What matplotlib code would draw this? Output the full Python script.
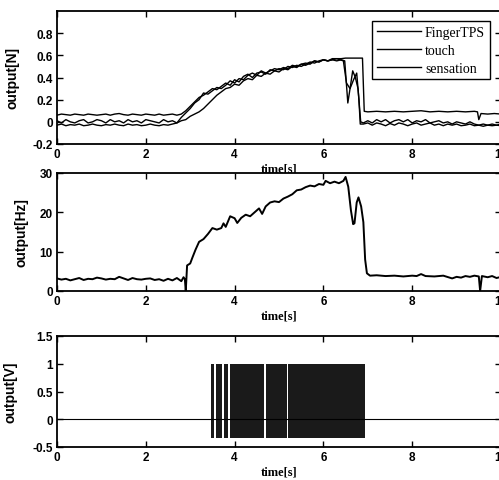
import matplotlib.pyplot as plt

plt.rcParams['font.family'] = 'Liberation Sans'
plt.rcParams['xtick.direction'] = 'in'
plt.rcParams['ytick.direction'] = 'in'

# --- panel 1: force output [N] ---
finger_t = [0.0, 0.1, 0.2, 0.3, 0.4, 0.5, 0.6, 0.7, 0.8, 0.9, 1.0, 1.1, 1.2, 1.3, 1.4,
            1.5, 1.6, 1.7, 1.8, 1.9, 2.0, 2.1, 2.2, 2.3, 2.4, 2.5, 2.6, 2.7, 2.8, 2.9,
            3.0, 3.1, 3.2, 3.3, 3.4, 3.5, 3.6, 3.7, 3.8, 3.9, 4.0, 4.1, 4.2, 4.3, 4.4,
            4.5, 4.6, 4.7, 4.8, 4.9, 5.0, 5.1, 5.2, 5.3, 5.4, 5.5, 5.6, 5.7, 5.8, 5.9,
            6.0, 6.1, 6.2, 6.3, 6.4, 6.5, 6.6, 6.7, 6.8, 6.88, 6.92, 7.0, 7.2, 7.4, 7.6,
            7.8, 8.0, 8.2, 8.4, 8.6, 8.8, 9.0, 9.2, 9.4, 9.47, 9.5, 9.55, 9.7, 9.85, 10.0]
finger_v = [0.06, 0.07, 0.065, 0.06, 0.07, 0.065, 0.06, 0.07, 0.065, 0.06, 0.065, 0.07, 0.06, 0.07, 0.075,
            0.065, 0.06, 0.07, 0.065, 0.06, 0.07, 0.065, 0.06, 0.07, 0.06, 0.065, 0.07, 0.06, 0.07, 0.1,
            0.14, 0.18, 0.22, 0.24, 0.27, 0.3, 0.29, 0.32, 0.35, 0.33, 0.38, 0.36, 0.41, 0.43, 0.4,
            0.44, 0.45, 0.43, 0.47, 0.46, 0.48, 0.47, 0.5, 0.49, 0.51, 0.5, 0.52, 0.54, 0.53, 0.55,
            0.56, 0.55, 0.57, 0.57, 0.57, 0.575, 0.575, 0.575, 0.575, 0.575, 0.095, 0.09, 0.095, 0.09, 0.095,
            0.09, 0.095, 0.1, 0.09, 0.095, 0.09, 0.095, 0.09, 0.095, 0.09, 0.02, 0.075, 0.07, 0.075, 0.07]

touch_t = [0.0, 0.1, 0.2, 0.3, 0.4, 0.5, 0.6, 0.7, 0.8, 0.9, 1.0, 1.1, 1.2, 1.3, 1.4,
           1.5, 1.6, 1.7, 1.8, 1.9, 2.0, 2.1, 2.2, 2.3, 2.4, 2.5, 2.6, 2.7, 2.8, 2.9,
           3.0, 3.1, 3.2, 3.3, 3.4, 3.5, 3.6, 3.7, 3.8, 3.9, 4.0, 4.1, 4.2, 4.3, 4.4,
           4.5, 4.6, 4.7, 4.8, 4.9, 5.0, 5.1, 5.2, 5.3, 5.4, 5.5, 5.6, 5.7, 5.8, 5.9,
           6.0, 6.1, 6.2, 6.3, 6.4, 6.48, 6.55, 6.6, 6.66, 6.72, 6.78, 6.84, 6.9, 7.0, 7.1,
           7.2, 7.3, 7.4, 7.5, 7.6, 7.7, 7.8, 7.9, 8.0, 8.1, 8.2, 8.3, 8.4, 8.5, 8.6,
           8.7, 8.8, 8.9, 9.0, 9.1, 9.2, 9.3, 9.4, 9.5, 9.6, 9.7, 9.8, 9.9, 10.0]
touch_v = [0.01, -0.01, 0.02, 0.0, -0.01, 0.01, 0.02, -0.01, 0.0, 0.02, 0.01, -0.01, 0.02, 0.0, 0.01,
           -0.01, 0.02, 0.0, 0.01, -0.01, 0.02, 0.01, 0.0, -0.01, 0.02, 0.0, 0.01, -0.01, 0.01, 0.02,
           0.05, 0.07, 0.09, 0.12, 0.16, 0.2, 0.24, 0.27, 0.3, 0.31, 0.34, 0.33, 0.37, 0.39, 0.38,
           0.42, 0.41, 0.44, 0.43, 0.46, 0.45, 0.48, 0.47, 0.5, 0.49, 0.52, 0.51, 0.53, 0.55, 0.54,
           0.56, 0.55, 0.56, 0.55, 0.56, 0.55, 0.17, 0.3, 0.46, 0.4, 0.3, 0.0, -0.01, 0.01, -0.01,
           0.02, 0.0, 0.02, -0.01, 0.01, 0.02, 0.0, 0.02, -0.01, 0.01, 0.0, 0.02, -0.01, 0.0, 0.01,
           -0.01, 0.0, -0.02, 0.0, -0.01, -0.02, 0.0, -0.02, -0.03, -0.02, -0.03, -0.02, -0.03, -0.02]

sens_t = [0.0, 0.1, 0.2, 0.3, 0.4, 0.5, 0.6, 0.7, 0.8, 0.9, 1.0, 1.1, 1.2, 1.3, 1.4,
          1.5, 1.6, 1.7, 1.8, 1.9, 2.0, 2.1, 2.2, 2.3, 2.4, 2.5, 2.6, 2.7, 2.8, 2.9,
          3.0, 3.1, 3.2, 3.3, 3.4, 3.5, 3.6, 3.7, 3.8, 3.9, 4.0, 4.1, 4.2, 4.3, 4.4,
          4.5, 4.6, 4.7, 4.8, 4.9, 5.0, 5.1, 5.2, 5.3, 5.4, 5.5, 5.6, 5.7, 5.8, 5.9,
          6.0, 6.1, 6.2, 6.3, 6.45, 6.52, 6.6, 6.68, 6.75, 6.8, 6.83, 6.9, 7.0, 7.1, 7.2,
          7.3, 7.4, 7.5, 7.6, 7.7, 7.8, 7.9, 8.0, 8.1, 8.2, 8.3, 8.4, 8.5, 8.6, 8.7,
          8.8, 8.9, 9.0, 9.1, 9.2, 9.3, 9.4, 9.5, 9.6, 9.7, 9.8, 9.9, 10.0]
sens_v = [-0.03, -0.02, -0.035, -0.025, -0.03, -0.02, -0.035, -0.03, -0.02, -0.03, -0.035, -0.025, -0.03, -0.02, -0.03,
          -0.035, -0.02, -0.03, -0.025, -0.035, -0.03, -0.02, -0.03, -0.035, -0.025, -0.03, -0.02, -0.01, 0.04, 0.08,
          0.12, 0.17, 0.2, 0.26, 0.25, 0.28, 0.31, 0.3, 0.33, 0.37, 0.35, 0.39, 0.38, 0.42, 0.44,
          0.42, 0.46, 0.44, 0.46, 0.48, 0.47, 0.49, 0.48, 0.51, 0.5, 0.52, 0.53, 0.52, 0.55, 0.54,
          0.56, 0.55, 0.56, 0.57, 0.55, 0.35, 0.3, 0.38, 0.44, 0.2, -0.02, -0.02, -0.01, -0.03, -0.01,
          -0.02, -0.035, -0.015, -0.03, -0.01, -0.02, -0.035, -0.02, -0.01, -0.03, -0.02, -0.01, -0.03, -0.02, -0.035,
          -0.02, -0.03, -0.02, -0.035, -0.03, -0.02, -0.035, -0.03, -0.04, -0.03, -0.035, -0.03, -0.035]

# --- panel 2: frequency output [Hz] ---
hz_t = [0.0, 0.1, 0.2, 0.3, 0.4, 0.5, 0.6, 0.7, 0.8, 0.9, 1.0, 1.1, 1.2, 1.3, 1.4,
        1.5, 1.6, 1.7, 1.8, 1.9, 2.0, 2.1, 2.2, 2.3, 2.4, 2.5, 2.6, 2.7, 2.8, 2.85,
        2.88, 2.9, 2.93, 3.0, 3.05, 3.12, 3.2, 3.3, 3.4, 3.5, 3.6, 3.7, 3.75, 3.8, 3.9,
        4.0, 4.06, 4.15, 4.25, 4.35, 4.45, 4.55, 4.62, 4.7, 4.8, 4.9, 5.0, 5.1, 5.2, 5.3,
        5.4, 5.5, 5.6, 5.7, 5.8, 5.9, 6.0, 6.05, 6.15, 6.25, 6.35, 6.45, 6.5, 6.56, 6.62,
        6.67, 6.7, 6.75, 6.79, 6.85, 6.9, 6.94, 6.98, 7.05, 7.2, 7.4, 7.6, 7.8, 8.0, 8.1,
        8.2, 8.3, 8.5, 8.7, 8.9, 9.0, 9.1, 9.2, 9.3, 9.4, 9.5, 9.53, 9.57, 9.7, 9.8,
        9.9, 10.0]
hz_v = [3.2, 2.9, 3.1, 2.7, 3.0, 3.3, 2.8, 3.1, 3.0, 3.4, 3.2, 2.9, 3.1, 3.0, 3.6,
        3.2, 2.8, 3.3, 3.0, 2.9, 3.1, 3.2, 2.8, 3.0, 2.6, 3.1, 2.7, 3.3, 2.5, 3.5,
        3.0, 0.0, 6.5, 7.0, 8.5, 10.5, 12.5, 13.2, 14.5, 16.0, 15.6, 16.0, 17.2, 16.3, 19.0,
        18.5, 17.3, 18.6, 19.4, 19.0, 20.0, 21.0, 19.6, 21.5, 22.5, 22.8, 22.6, 23.5, 24.0, 24.6,
        25.6, 25.8, 26.4, 26.8, 26.6, 27.2, 27.0, 28.0, 27.4, 27.8, 27.4, 28.0, 29.0, 26.5, 20.5,
        17.0, 17.2, 22.5, 23.8, 21.5, 17.5, 8.0, 4.5, 3.9, 4.0, 3.8, 3.9, 3.7, 3.9, 3.8,
        4.3, 3.8, 3.7, 3.9, 3.2, 3.6, 3.4, 3.8, 3.6, 3.9, 3.7, 0.0, 3.8, 3.5, 3.8,
        3.3, 3.6]

# --- panel 3: voltage output [V], spike bursts ---
burst_start = [3.46, 3.57, 3.75, 3.89, 4.70, 5.21]
burst_end = [3.53, 3.71, 3.85, 4.67, 5.17, 6.93]
pulse_high = 1.0
pulse_low = -0.33

fig = plt.figure(figsize=(4.99, 4.81), dpi=100)
W = 444 / 499
ax1 = fig.add_axes([57 / 499, 336 / 481, W, 133 / 481])
ax2 = fig.add_axes([57 / 499, 189 / 481, W, 118 / 481])
ax3 = fig.add_axes([57 / 499, 33 / 481, W, 111 / 481])

ax1.plot(finger_t, finger_v, color='black', lw=1.0, label='FingerTPS')
ax1.plot(touch_t, touch_v, color='black', lw=1.0, label='touch')
ax1.plot(sens_t, sens_v, color='black', lw=1.0, label='sensation')
ax1.set_ylim(-0.2, 1.0)
ax1.set_yticks([-0.2, 0, 0.2, 0.4, 0.6, 0.8])
ax1.set_yticklabels(['-0.2', '0', '0.2', '0.4', '0.6', '0.8'])
ax1.set_ylabel('output[N]')
ax1.yaxis.set_label_coords(-0.085, 0.5)
leg = ax1.legend(loc='upper right', bbox_to_anchor=(0.975, 0.925), borderaxespad=0,
                 fancybox=False, edgecolor='black', framealpha=1, handlelength=3.2,
                 labelspacing=0.35, handletextpad=0.25, borderpad=0.35,
                 prop={'family': 'Liberation Serif', 'size': 10})
leg.get_frame().set_linewidth(1.0)

ax2.plot(hz_t, hz_v, color='black', lw=1.4)
ax2.set_ylim(0, 30)
ax2.set_yticks([0, 10, 20, 30])
ax2.set_ylabel('output[Hz]')
ax2.yaxis.set_label_coords(-0.065, 0.5)

ax3.axhline(0, color='black', lw=0.8)
for s, e in zip(burst_start, burst_end):
    ax3.fill_between([s, e], pulse_low, pulse_high, color='#1a1a1a', lw=0)
ax3.set_ylim(-0.5, 1.5)
ax3.set_yticks([-0.5, 0, 0.5, 1, 1.5])
ax3.set_yticklabels(['-0.5', '0', '0.5', '1', '1.5'])
ax3.set_ylabel('output[V]')
ax3.yaxis.set_label_coords(-0.09, 0.5)

for ax in (ax1, ax2, ax3):
    ax.set_xlim(0, 10)
    ax.set_xticks([0, 2, 4, 6, 8, 10])
    ax.tick_params(top=True, right=True, length=4, width=1, labelsize=8.5, pad=3)
    for lab in ax.get_xticklabels() + ax.get_yticklabels():
        lab.set_fontweight('bold')
    for sp in ax.spines.values():
        sp.set_linewidth(1.3)
    ax.set_xlabel('time[s]', family='Liberation Serif', fontweight='bold', fontsize=9, labelpad=2)
    ax.yaxis.label.set_fontsize(10)
    ax.yaxis.label.set_fontweight('bold')

fig.savefig('out.png', dpi=100)
